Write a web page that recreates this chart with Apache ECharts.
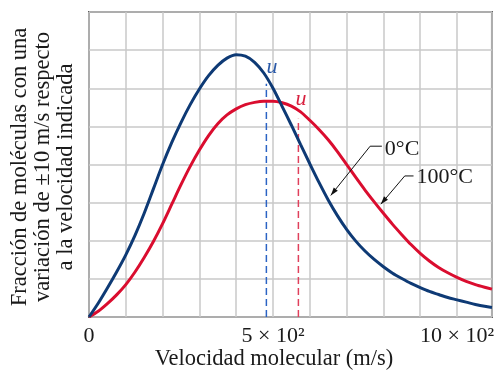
<!DOCTYPE html>
<html>
<head>
<meta charset="utf-8">
<script src="https://cdn.jsdelivr.net/npm/echarts@6/dist/echarts.min.js"></script>
<style>
html,body{margin:0;padding:0;background:#fff;}
#c{width:497px;height:370px;}
</style>
</head>
<body>
<div id="c"></div>
<script>
// Molecular speed (m/s)
const speeds = [0,25,50,75,100,125,150,175,200,225,250,275,300,325,350,375,400,425,450,475,500,525,550,575,600,625,650,675,700,725,750,775,800,825,850,875,900,925,950,975,1000,1025,1050,1075,1095];
// 0 °C curve (relative fraction)
const cold = [0,0.36,0.76,1.18,1.63,2.14,2.72,3.36,4.0,4.58,5.1,5.57,5.98,6.33,6.6,6.79,6.88,6.84,6.68,6.4,6.0,5.52,5.03,4.52,4.02,3.53,3.07,2.66,2.3,1.99,1.73,1.51,1.32,1.15,1.01,0.88,0.77,0.67,0.59,0.51,0.45,0.39,0.33,0.28,0.25];
// 100 °C curve
const hot = [0,0.15,0.35,0.58,0.85,1.18,1.56,1.98,2.45,2.96,3.47,3.95,4.38,4.76,5.07,5.3,5.46,5.57,5.63,5.66,5.66,5.62,5.53,5.38,5.16,4.92,4.65,4.34,4.0,3.66,3.33,3.02,2.72,2.43,2.16,1.9,1.67,1.47,1.3,1.16,1.04,0.935,0.85,0.78,0.73];
// rms speed markers [speed, height]
const uCold = [482, 6.12];
const uHot = [569, 5.2];
const xTickLabels = {0: '0', 500: '5 × 10²', 1000: '10 × 10²'};
const yTitle = ['Fracción de moléculas con una', 'variación de ±10 m/s respecto', 'a la velocidad indicada'];
const xTitle = 'Velocidad molecular (m/s)';
const curveLabels = ['0°C', '100°C'];

const FONT = '"Liberation Serif", "Times New Roman", serif';
const chart = echarts.init(document.getElementById('c'), null, {renderer: 'canvas'});

function pairs(ys) { return speeds.map((v, i) => [v, ys[i]]); }

const option = {
  animation: false,
  backgroundColor: '#ffffff',
  grid: {left: 89, right: 1, top: 12, bottom: 53, show: true, borderColor: '#5c5c5c', borderWidth: 2, backgroundColor: 'transparent'},
  xAxis: {
    type: 'value', min: 0, max: 1095, interval: 100,
    axisLine: {show: false}, axisTick: {show: false},
    splitLine: {show: true, lineStyle: {color: '#c9c9c9', width: 1.5}},
    axisLabel: {
      show: true, margin: 8, color: '#1a1a1a', fontFamily: FONT, fontSize: 22,
      showMaxLabel: false,
      formatter: v => xTickLabels[v] !== undefined ? xTickLabels[v] : ''
    }
  },
  yAxis: {
    type: 'value', min: 0, max: 8, interval: 1,
    axisLine: {show: false}, axisTick: {show: false}, axisLabel: {show: false},
    splitLine: {show: true, lineStyle: {color: '#c9c9c9', width: 1.5}}
  },
  series: [
    {type: 'line', data: pairs(cold), smooth: 0.3, showSymbol: false, lineStyle: {color: '#0e3a75', width: 3}, z: 5},
    {type: 'line', data: pairs(hot), smooth: 0.3, showSymbol: false, lineStyle: {color: '#da0d2f', width: 3}, z: 4},
    {type: 'line', data: [[uCold[0], 0], uCold], showSymbol: false, lineStyle: {color: '#2b63c4', width: 1.5, type: [7, 4]}, z: 3},
    {type: 'line', data: [[uHot[0], 0], uHot], showSymbol: false, lineStyle: {color: '#e0405c', width: 1.5, type: [7, 4]}, z: 3}
  ]
};
chart.setOption(option);

// annotations placed in data coordinates
const P = c => chart.convertToPixel({gridIndex: 0}, c);
const gfx = [];
function uLabel(pos, color) {
  const p = P(pos);
  gfx.push({type: 'text', x: p[0], y: p[1], z: 10, style: {text: 'u', font: 'italic 22px ' + FONT, fill: color, textAlign: 'center', textVerticalAlign: 'middle'}});
}
uLabel([497, 6.55], '#2b5aa8');
uLabel([576, 5.72], '#d8213f');

function leader(tip, elbow, textStart, label) {
  const t = P(tip), e = P(elbow), s = P(textStart);
  const start = [s[0] - 3, e[1]];
  gfx.push({type: 'polyline', z: 10, shape: {points: [start, e, t]}, style: {stroke: '#111', lineWidth: 1, fill: null}});
  const dx = t[0] - e[0], dy = t[1] - e[1], L = Math.hypot(dx, dy);
  const ux = dx / L, uy = dy / L, nx = -uy, ny = ux, len = 8, w = 2.6;
  const b = [t[0] - ux * len, t[1] - uy * len];
  gfx.push({type: 'polygon', z: 10, shape: {points: [t, [b[0] + nx * w, b[1] + ny * w], [b[0] - nx * w, b[1] - ny * w]]}, style: {fill: '#111'}});
  gfx.push({type: 'text', x: s[0], y: s[1], z: 10, style: {text: label, font: '22px ' + FONT, fill: '#1a1a1a', textAlign: 'left', textVerticalAlign: 'middle'}});
}
leader([657, 3.19], [764, 4.48], [804, 4.4], curveLabels[0]);
leader([793, 2.96], [858, 3.70], [890, 3.66], curveLabels[1]);

gfx.push({type: 'text', x: 43, y: 167, rotation: Math.PI / 2, z: 10,
  style: {text: yTitle.join('\n'), font: '22.5px ' + FONT, lineHeight: 23, fill: '#1a1a1a', textAlign: 'center', textVerticalAlign: 'middle'}});
gfx.push({type: 'text', x: 274, y: 359, z: 10,
  style: {text: xTitle, font: '22.5px ' + FONT, fill: '#1a1a1a', textAlign: 'center', textVerticalAlign: 'middle'}});

chart.setOption({graphic: gfx});
</script>
</body>
</html>
